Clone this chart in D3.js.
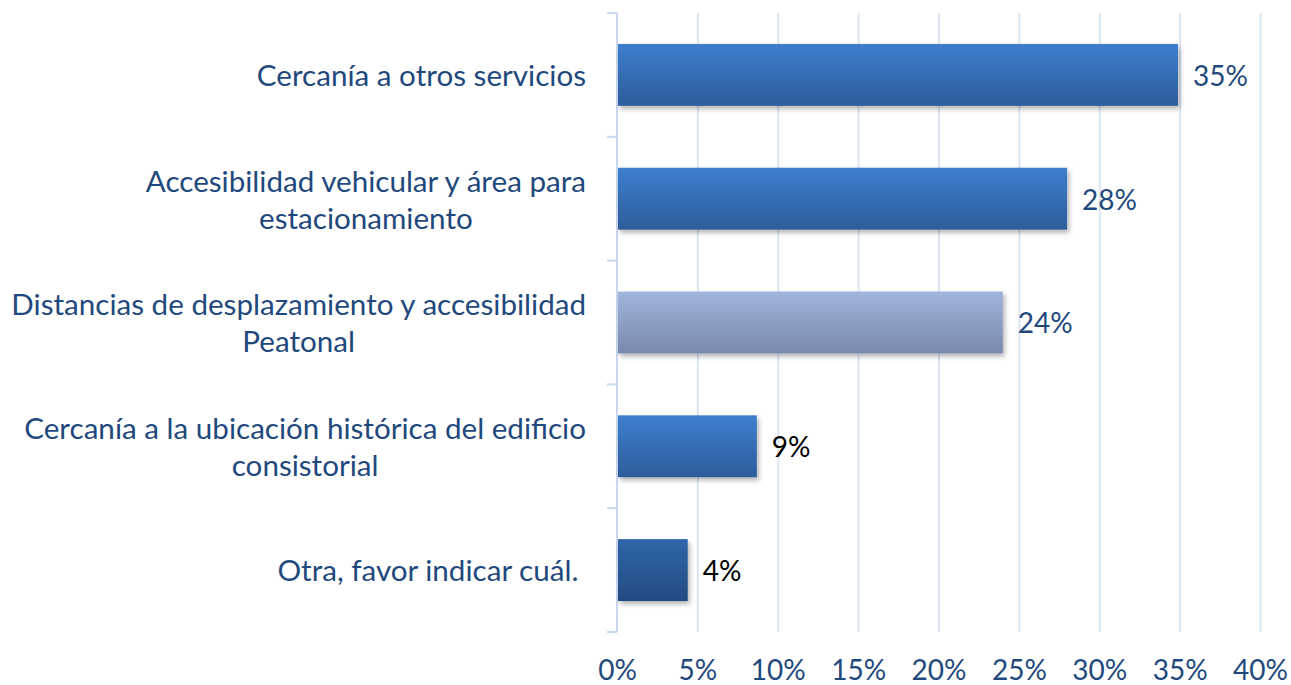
<!DOCTYPE html>
<html>
<head>
<meta charset="utf-8">
<script src="https://cdn.jsdelivr.net/npm/d3@7"></script>
<style>
  html, body { margin: 0; padding: 0; background: #fff; }
  svg { display: block; }
  text { font-family: Lato, "Open Sans", sans-serif; white-space: pre; }
</style>
</head>
<body>
<svg id="chart" width="1291" height="685"></svg>
<script>
const categories = [
  "Cercanía a otros servicios",
  "Accesibilidad vehicular y área para\nestacionamiento",
  "Distancias de desplazamiento y accesibilidad\nPeatonal",
  "Cercanía a la ubicación histórica del edificio\nconsistorial",
  "Otra, favor indicar cuál. "
];
const values = [0.349, 0.280, 0.240, 0.087, 0.044];
const barStyles = ["blue", "blue", "grey", "blue", "dark"];
const labelColors = ["dark", "dark", "dark", "black", "black"];
const xTicks = [0, 0.05, 0.10, 0.15, 0.20, 0.25, 0.30, 0.35, 0.40];

const svg = d3.select("#chart");
const pLeft = 617, pRight = 1260, pTop = 13, pBottom = 632;
const textBlue = "#1f497d";
const numSize = 28;
const catSize = 29.6;

const x = d3.scaleLinear().domain([0, 0.4]).range([pLeft, pRight]);
const y = d3.scaleBand().domain(categories).range([pTop, pBottom])
  .paddingInner(0.5).paddingOuter(0.25);

const defs = svg.append("defs");
const grads = {
  blue: ["#3d7ecd", "#2d5d9b"],
  grey: ["#a0b5dd", "#7989ac"],
  dark: ["#2f66a8", "#234b82"]
};
Object.entries(grads).forEach(([k, c]) => {
  const g = defs.append("linearGradient").attr("id", "g-" + k)
    .attr("x1", 0).attr("y1", 0).attr("x2", 0).attr("y2", 1);
  g.append("stop").attr("offset", "0%").attr("stop-color", c[0]);
  g.append("stop").attr("offset", "100%").attr("stop-color", c[1]);
});
const f = defs.append("filter").attr("id", "shadow")
  .attr("x", "-5%").attr("y", "-10%").attr("width", "115%").attr("height", "140%");
f.append("feDropShadow").attr("dx", 2).attr("dy", 3).attr("stdDeviation", 2.5)
  .attr("flood-color", "#000").attr("flood-opacity", 0.3);

// gridlines
const grid = svg.append("g").attr("transform", `translate(0,${pBottom})`)
  .call(d3.axisBottom(x).tickValues(xTicks.slice(1)).tickSize(-(pBottom - pTop)).tickFormat(""));
grid.select(".domain").remove();
grid.selectAll(".tick line").attr("stroke", "#dbe5f3").attr("stroke-width", 2);

// x tick labels
const xAxis = svg.append("g").attr("transform", `translate(0,${pBottom})`)
  .call(d3.axisBottom(x).tickValues(xTicks).tickSize(0).tickPadding(0).tickFormat(d3.format(".0%")));
xAxis.select(".domain").remove();
xAxis.selectAll(".tick text")
  .attr("y", 38).attr("dy", "0.35em")
  .attr("fill", textBlue).style("font-size", numSize + "px")
  .style("font-family", "Lato, sans-serif");

// y axis line + ticks at band boundaries
const step = y.step();
const boundaries = categories.map(c => y(c) - step * y.paddingInner() / 2);
boundaries.push(pBottom);
const yAxis = svg.append("g");
yAxis.append("line").attr("x1", pLeft).attr("x2", pLeft).attr("y1", pTop).attr("y2", pBottom)
  .attr("stroke", "#c9d8ee").attr("stroke-width", 2);
yAxis.selectAll("line.tk").data(boundaries).join("line").attr("class", "tk")
  .attr("x1", pLeft - 10).attr("x2", pLeft).attr("y1", d => d).attr("y2", d => d)
  .attr("stroke", "#c9d8ee").attr("stroke-width", 2);

// bars
svg.append("g").selectAll("rect").data(categories).join("rect")
  .attr("x", x(0) + 1)
  .attr("y", d => y(d))
  .attr("width", (d, i) => x(values[i]) - x(0) - 1)
  .attr("height", y.bandwidth())
  .attr("fill", (d, i) => `url(#g-${barStyles[i]})`)
  .attr("filter", "url(#shadow)");

// value labels
svg.append("g").selectAll("text").data(categories).join("text")
  .attr("x", (d, i) => x(values[i]) + 15)
  .attr("y", d => y(d) + y.bandwidth() / 2 + 1)
  .attr("dy", "0.35em")
  .attr("fill", (d, i) => labelColors[i] === "dark" ? textBlue : "#000")
  .style("font-size", numSize + "px")
  .text((d, i) => d3.format(".0%")(values[i]));

// category labels
const catG = svg.append("g");
const lineH = 37;
categories.forEach((c, i) => {
  const lines = c.split("\n");
  const cy = y(c) + y.bandwidth() / 2 + 1;
  const t = catG.append("text")
    .attr("fill", textBlue).style("font-size", catSize + "px")
    .attr("text-anchor", "middle");
  lines.forEach((ln, j) => {
    t.append("tspan").attr("y", cy + (j - (lines.length - 1) / 2) * lineH)
      .attr("dy", "0.35em").text(ln);
  });
  let maxW = 0;
  t.selectAll("tspan").each(function() { maxW = Math.max(maxW, this.getComputedTextLength()); });
  t.selectAll("tspan").attr("x", 586 - maxW / 2);
});
</script>
</body>
</html>
